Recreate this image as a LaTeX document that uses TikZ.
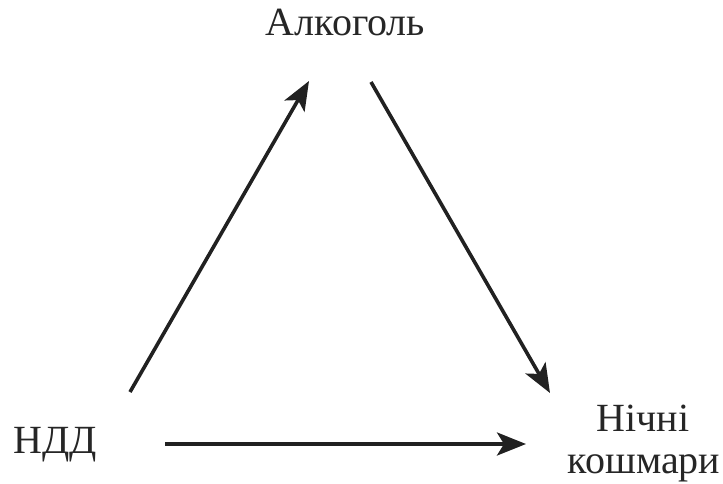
\documentclass[tikz,border=0pt]{standalone}
\usepackage{fontspec}
\setmainfont{Liberation Serif}
\usetikzlibrary{arrows.meta}
\tikzset{
  lbl/.style={inner sep=0pt, anchor=base, font=\fontsize{40}{44}\selectfont, text=black!85},
  conn/.style={line width=3.6pt, draw=black!87, -{Stealth[length=29pt,width=23pt,inset=7pt]}}
}
\begin{document}
\begin{tikzpicture}[x=1pt,y=-1pt]
\useasboundingbox (0,0) rectangle (723,483);
\node[lbl] (alc) at (345.5,35) {Алкоголь};
\node[lbl] (ndd) at (55.5,453) {НДД};
\node[lbl] (nich) at (643,431) {Нічні};
\node[lbl] (kosh) at (644,473) {кошмари};
\coordinate (a1s) at (130,392);
\coordinate (a1e) at (309,81);
\coordinate (a2s) at (371,82);
\coordinate (a2e) at (550,393);
\coordinate (a3s) at (165,444);
\coordinate (a3e) at (526,444);
\draw[conn] (a1s) -- (a1e);
\draw[conn] (a2s) -- (a2e);
\draw[conn] (a3s) -- (a3e);
\end{tikzpicture}
\end{document}
